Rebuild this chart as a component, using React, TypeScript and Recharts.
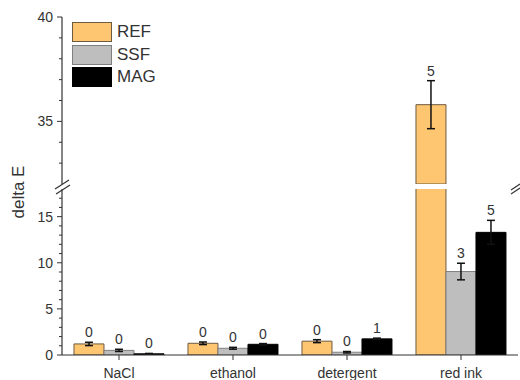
import React from 'react';
import { BarChart, Bar, XAxis, YAxis, ErrorBar, LabelList } from 'recharts';

// values
const categories = ['NaCl', 'ethanol', 'detergent', 'red ink'];
const refValues = [1.2, 1.27, 1.5, 35.8];
const refErrors = [0.18, 0.14, 0.16, 1.15];
const ssfValues = [0.5, 0.73, 0.3, 9.05];
const ssfErrors = [0.12, 0.1, 0.08, 0.9];
const magValues = [0.13, 1.16, 1.75, 13.3];
const magErrors = [0.04, 0.08, 0.08, 1.3];
const refCounts = [0, 0, 0, 5];
const ssfCounts = [0, 0, 0, 3];
const magCounts = [0, 0, 1, 5];

const lowerDomain = [0, 18];
const upperDomain = [32, 40];
const lowerTicks = [0, 1, 2, 3, 4, 5, 6, 7, 8, 9, 10, 11, 12, 13, 14, 15, 16, 17];
const upperTicks = [33, 34, 35, 36, 37, 38, 39, 40];

const FONT = "'Liberation Sans', Arial, sans-serif";
const INK = '#333';

// chart boxes for the two axis segments
const upperBox = { height: 186, margin: { top: 17, right: 2, bottom: 2, left: 0 } };
const lowerBox = { height: 200, xAxisH: 25, margin: { top: 9, right: 2, bottom: 0, left: 0 } };
const upperPlotH = upperBox.height - upperBox.margin.top - upperBox.margin.bottom;
const lowerPlotH = lowerBox.height - lowerBox.margin.top - lowerBox.margin.bottom - lowerBox.xAxisH;

// note: "ref" can't be used as a data key (recharts spreads rows onto elements)
const series = [
    { key: 'REF', values: refValues, errors: refErrors, counts: refCounts, fill: '#FFC671', stroke: '#6e5a40' },
    { key: 'SSF', values: ssfValues, errors: ssfErrors, counts: ssfCounts, fill: '#BEBEBE', stroke: '#808080' },
    { key: 'MAG', values: magValues, errors: magErrors, counts: magCounts, fill: '#000000', stroke: '#000000' },
];

// build one table per axis segment, dropping what lies outside it
const buildData = (lo: number, hi: number) =>
    categories.map((name, i) => {
        const row: any = { name };
        series.forEach((s) => {
            const v = s.values[i];
            const inside = v > lo && v <= hi;
            row[s.key] = v > lo ? v : null;
            row[s.key + 'Err'] = inside ? s.errors[i] : null;
            row[s.key + 'N'] = inside ? s.counts[i] : null;
        });
        return row;
    });

const lowerData = buildData(lowerDomain[0] - 1, lowerDomain[1]);
const upperData = buildData(upperDomain[0], upperDomain[1]);

const makeTick = (side: 'left' | 'right') => (props: any) => {
    const { x, y, payload } = props;
    const major = payload.value % 5 === 0;
    const len = major ? 5 : 3;
    return (
        <g>
            <line x1={x} x2={x - len} y1={y} y2={y} stroke={INK} strokeWidth={1} />
            {side === 'left' && major && (
                <text x={x - 9} y={y} textAnchor="end" dominantBaseline="central" fontSize={14} fill={INK} fontFamily={FONT}>
                    {payload.value}
                </text>
            )}
        </g>
    );
};

// label value carries "count|error" so the text can sit above the cap
const countKey = (key: string) => (row: any) =>
    row[key + 'N'] == null ? null : `${row[key + 'N']}|${row[key + 'Err']}`;

const renderCount = (p: any, pxPer: number) => {
    if (p.value == null) return null;
    const [n, err] = String(p.value).split('|');
    const vb = p.viewBox || p;
    const errTop = vb.y - Number(err) * pxPer;
    return (
        <text x={vb.x + vb.width / 2} y={errTop - 10} textAnchor="middle" dominantBaseline="central" fontSize={14} fill={INK} fontFamily={FONT}>
            {n}
        </text>
    );
};

const bars = (pxPer: number) =>
    series.map((s) => (
        <Bar key={s.key} dataKey={s.key} yAxisId="l" fill={s.fill} stroke={s.stroke} strokeWidth={1} isAnimationActive={false}>
            <ErrorBar dataKey={s.key + 'Err'} width={4} stroke="#111" strokeWidth={1.5} />
            <LabelList dataKey={countKey(s.key)} content={(p: any) => renderCount(p, pxPer)} />
        </Bar>
    ));

export default function App() {
    return (
        <div style={{ position: 'absolute', left: 0, top: 0, width: 520, height: 380, background: '#fff', fontFamily: FONT }}>
            {/* upper segment 32-40 */}
            <div style={{ position: 'absolute', left: 0, top: 0 }}>
                <BarChart width={520} height={upperBox.height} data={upperData} margin={upperBox.margin} barGap={0} barCategoryGap="10.5%">
                    <XAxis dataKey="name" orientation="top" height={0} tick={false} tickLine={false} axisLine={{ stroke: INK, strokeWidth: 1.2 }} />
                    <YAxis yAxisId="l" type="number" domain={upperDomain} allowDataOverflow ticks={upperTicks} interval={0} width={62}
                        tickSize={0} tickMargin={0} tickLine={false} axisLine={{ stroke: INK, strokeWidth: 1.2 }} tick={makeTick('left')} />
                    <YAxis yAxisId="r" orientation="right" type="number" domain={upperDomain} allowDataOverflow ticks={upperTicks} interval={0} width={0}
                        tickSize={0} tickMargin={0} tickLine={false} axisLine={{ stroke: INK, strokeWidth: 1.2 }} tick={makeTick('right')} />
                    {bars(upperPlotH / (upperDomain[1] - upperDomain[0]))}
                </BarChart>
            </div>

            {/* lower segment 0-18 */}
            <div style={{ position: 'absolute', left: 0, top: 180 }}>
                <BarChart width={520} height={lowerBox.height} data={lowerData} margin={lowerBox.margin} barGap={0} barCategoryGap="10.5%">
                    <XAxis dataKey="name" height={lowerBox.xAxisH} tickSize={5} tickMargin={8} interval={0}
                        axisLine={{ stroke: INK, strokeWidth: 1.2 }} tickLine={{ stroke: INK }}
                        tick={{ fontSize: 14, fill: INK, fontFamily: FONT }} />
                    <YAxis yAxisId="l" type="number" domain={lowerDomain} allowDataOverflow ticks={lowerTicks} interval={0} width={62}
                        tickSize={0} tickMargin={0} tickLine={false} axisLine={{ stroke: INK, strokeWidth: 1.2 }} tick={makeTick('left')} />
                    <YAxis yAxisId="r" orientation="right" type="number" domain={lowerDomain} allowDataOverflow ticks={lowerTicks} interval={0} width={0}
                        tickSize={0} tickMargin={0} tickLine={false} axisLine={{ stroke: INK, strokeWidth: 1.2 }} tick={makeTick('right')} />
                    {bars(lowerPlotH / (lowerDomain[1] - lowerDomain[0]))}
                </BarChart>
            </div>

            {/* axis breaks and title */}
            <svg width={520} height={380} style={{ position: 'absolute', left: 0, top: 0, pointerEvents: 'none' }}>
                <line x1={55} y1={189} x2={69} y2={180} stroke={INK} strokeWidth={1.2} />
                <line x1={56} y1={194} x2={70} y2={185} stroke={INK} strokeWidth={1.2} />
                <line x1={511} y1={190} x2={520} y2={184} stroke={INK} strokeWidth={1.2} />
                <line x1={511} y1={194} x2={520} y2={188} stroke={INK} strokeWidth={1.2} />
                <text transform="translate(18,192) rotate(-90)" textAnchor="middle" dominantBaseline="central" fontSize={17} fill={INK} fontFamily={FONT}>
                    delta E
                </text>
            </svg>

            {/* legend */}
            <div style={{ position: 'absolute', left: 72, top: 22 }}>
                {series.map((s) => (
                    <div key={s.key} style={{ display: 'flex', alignItems: 'center', height: 20, marginBottom: 2.5 }}>
                        <div style={{ width: 38, height: 18, background: s.fill, border: `1px solid ${s.stroke}` }} />
                        <span style={{ marginLeft: 5, fontSize: 17, color: INK, lineHeight: '20px' }}>{s.key}</span>
                    </div>
                ))}
            </div>
        </div>
    );
}
